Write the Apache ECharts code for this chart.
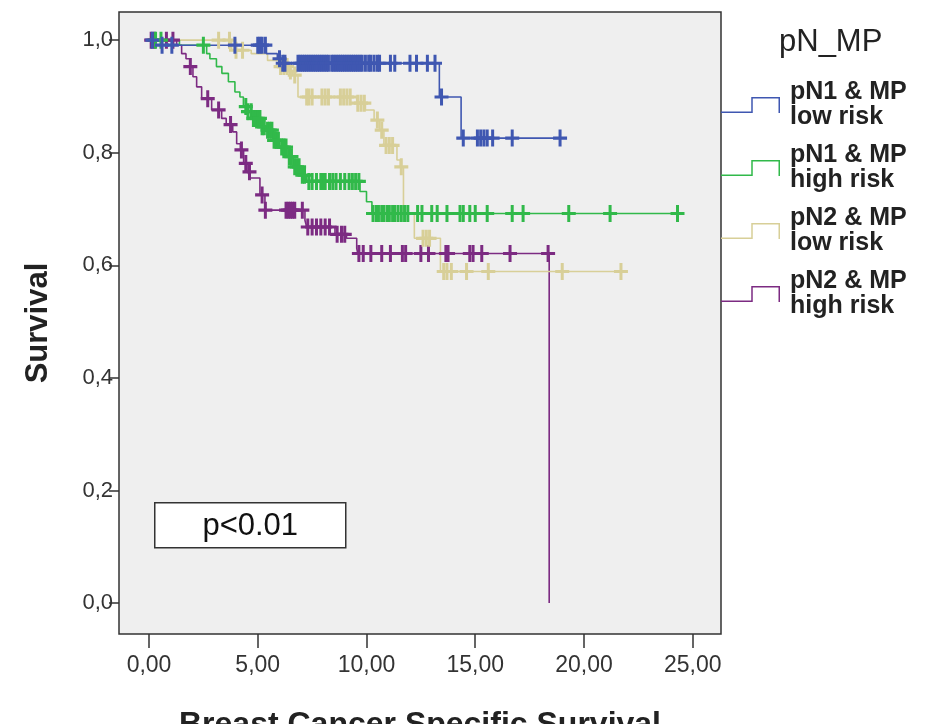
<!DOCTYPE html>
<html>
<head>
<meta charset="utf-8">
<title>pN_MP survival</title>
<script src="https://cdn.jsdelivr.net/npm/echarts@6/dist/echarts.min.js"></script>
<style>
  html, body { margin: 0; padding: 0; background: #ffffff; }
  #chart { width: 933px; height: 724px; }
</style>
</head>
<body>
<div id="chart"></div>
<script>
// Kaplan-Meier curves: [time, survival after the event]
const groupNames = ['pN1 & MP\nlow risk', 'pN1 & MP\nhigh risk', 'pN2 & MP\nlow risk', 'pN2 & MP\nhigh risk'];
const groupColors = ['#3f57b1', '#31b94a', '#d8cf98', '#7c2b82'];

const stepsN1Low = [[0, 1], [0.55, 0.991], [5.4, 0.976], [5.9, 0.967], [6.1, 0.959], [13.35, 0.899], [14.35, 0.826]];
const stepsN1High = [[0, 1], [1.4, 0.991], [2.65, 0.976], [2.8, 0.967], [3.1, 0.953], [3.35, 0.941], [3.65, 0.926],
  [3.95, 0.908], [4.18, 0.899], [4.34, 0.882], [4.5, 0.873], [4.8, 0.861], [5.15, 0.846], [5.4, 0.84], [5.7, 0.822],
  [6.0, 0.81], [6.35, 0.793], [6.65, 0.775], [6.95, 0.76], [7.25, 0.749], [9.7, 0.731], [10.0, 0.713], [10.25, 0.692]];
const stepsN2Low = [[0, 1], [3.8, 0.982], [4.7, 0.976], [5.45, 0.964], [6.0, 0.953], [6.4, 0.945], [6.6, 0.938],
  [6.85, 0.899], [9.55, 0.888], [9.95, 0.876], [10.35, 0.858], [10.6, 0.84], [10.8, 0.813], [11.4, 0.787],
  [11.55, 0.775], [11.7, 0.692], [12.2, 0.648], [13.4, 0.589]];
const stepsN2High = [[0, 1], [1.27, 0.991], [1.5, 0.976], [1.7, 0.967], [1.89, 0.953], [2.02, 0.935], [2.19, 0.917],
  [2.42, 0.896], [2.88, 0.876], [3.34, 0.861], [3.55, 0.85], [3.85, 0.837], [4.03, 0.816], [4.2, 0.805], [4.35, 0.781],
  [4.55, 0.766], [4.64, 0.755], [5.1, 0.725], [5.33, 0.698], [7.17, 0.68], [7.25, 0.668], [8.55, 0.655], [9.08, 0.648],
  [9.55, 0.63], [9.6, 0.621], [18.4, 0]];

// last follow-up time of each group (end of the horizontal tail)
const lastFollowUp = [19.0, 24.5, 21.8, 18.4];

// censored observations (times)
const censN1Low = [0.15, 0.6, 1.05, 3.95, 5.0, 5.1, 5.2, 5.35, 6.0, 6.15, 6.25, 6.85, 6.95, 7.05, 7.15, 7.25, 7.35,
  7.45, 7.55, 7.65, 7.75, 7.85, 7.95, 8.05, 8.15, 8.25, 8.4, 8.5, 8.6, 8.7, 8.8, 8.9, 9.0, 9.1, 9.2, 9.3, 9.4, 9.5,
  9.6, 9.7, 9.8, 9.95, 10.1, 10.2, 10.35, 10.5, 10.6, 11.1, 11.3, 12.0, 12.3, 12.8, 13.15, 13.45, 14.45, 15.1, 15.25,
  15.4, 15.55, 15.8, 16.7, 18.9];
const censN1High = [0.3, 0.55, 2.5, 4.45, 4.55, 4.7, 4.8, 4.9, 5.0, 5.1, 5.2, 5.3, 5.45, 5.55, 5.65, 5.75, 5.85, 5.95,
  6.1, 6.2, 6.3, 6.45, 6.55, 6.7, 6.8, 6.9, 7.05, 7.15, 7.35, 7.5, 7.7, 7.9, 8.0, 8.1, 8.3, 8.45, 8.6, 8.8, 9.0, 9.2,
  9.35, 9.5, 9.65, 10.3, 10.45, 10.55, 10.7, 10.8, 10.95, 11.05, 11.2, 11.3, 11.45, 11.6, 11.75, 11.9, 12.35, 12.55,
  13.0, 13.25, 13.7, 14.3, 14.45, 14.75, 15.0, 15.55, 16.7, 17.2, 19.3, 21.2, 24.3];
const censN2Low = [3.2, 3.7, 4.0, 4.3, 6.05, 6.2, 6.35, 6.5, 6.7, 7.25, 7.35, 7.5, 7.95, 8.1, 8.25, 8.8, 8.95, 9.1,
  9.25, 9.6, 9.75, 9.9, 10.5, 10.7, 10.9, 11.05, 11.2, 11.6, 12.6, 12.75, 12.9, 13.55, 13.7, 13.9, 14.6, 15.6, 19.0, 21.7];
const censN2High = [0.1, 0.25, 0.8, 1.1, 1.9, 2.7, 3.2, 3.75, 4.25, 4.45, 4.62, 5.2, 5.35, 6.3, 6.4, 6.5, 6.6, 6.7,
  7.05, 7.3, 7.5, 7.7, 7.9, 8.1, 8.3, 8.65, 8.85, 9.0, 9.65, 9.85, 10.2, 10.7, 11.1, 11.65, 11.8, 12.5, 12.85, 13.65,
  13.75, 14.75, 14.9, 15.3, 16.6, 18.35];

const xTicks = [0, 5, 10, 15, 20, 25];
const yTicks = [0, 0.2, 0.4, 0.6, 0.8, 1.0];
const pValueText = 'p<0.01';

const allSteps = [stepsN1Low, stepsN1High, stepsN2Low, stepsN2High];
const allCens = [censN1Low, censN1High, censN2Low, censN2High];

// survival estimate at time t from a step table
function survivalAt(steps, t) {
  let s = steps[0][1];
  for (const [time, val] of steps) {
    if (time <= t) s = val; else break;
  }
  return s;
}

const FONT = "'Liberation Sans', Arial, Helvetica, sans-serif";
const plusIcon = 'path://M5.5,0h3v16h-3z M0,6.5h14v3h-14z';
const stepIcon = 'path://M0,14.5L30.25,14.5L30.25,0L59,0L59,16L57.5,16L57.5,1.5L31.75,1.5L31.75,16L0,16Z';

const series = [];
// draw order: N2 high, N2 low, N1 high, N1 low
[3, 2, 1, 0].forEach(i => {
  const steps = allSteps[i];
  const last = steps[steps.length - 1];
  const lineData = steps.slice();
  if (lastFollowUp[i] > last[0]) lineData.push([lastFollowUp[i], last[1]]);
  series.push({
    name: groupNames[i],
    type: 'line',
    step: 'end',
    data: lineData,
    symbol: 'none',
    lineStyle: { color: groupColors[i], width: 1.6 },
    itemStyle: { color: groupColors[i] },
    z: 2,
    animation: false
  });
  series.push({
    name: 'cens' + i,
    type: 'scatter',
    data: allCens[i].map(t => [t, survivalAt(steps, t)]),
    symbol: plusIcon,
    symbolSize: [14, 17],
    itemStyle: { color: groupColors[i], opacity: 1 },
    z: 3,
    animation: false
  });
});

const chart = echarts.init(document.getElementById('chart'), null, { renderer: 'canvas' });
chart.setOption({
  backgroundColor: '#ffffff',
  animation: false,
  textStyle: { fontFamily: FONT },
  title: {
    text: 'pN_MP',
    left: 779,
    top: 27,
    padding: 0,
    textStyle: { fontFamily: FONT, fontSize: 31, fontWeight: 'normal', color: '#222222' }
  },
  legend: {
    orient: 'vertical',
    left: 721,
    top: 80,
    padding: 0,
    itemWidth: 59,
    itemHeight: 16,
    itemGap: 13,
    selectedMode: false,
    data: groupNames.map((n, i) => ({
      name: n,
      icon: stepIcon,
      itemStyle: { color: groupColors[i], borderWidth: 0 }
    })),
    textStyle: {
      fontFamily: FONT, fontSize: 25, fontWeight: 'bold', color: '#222222',
      lineHeight: 25, padding: [0, 0, 0, 5]
    }
  },
  grid: {
    left: 119, right: 212, top: 12, bottom: 90,
    containLabel: false,
    outerBoundsMode: 'none',
    show: true,
    backgroundColor: '#efefef',
    borderColor: '#333333',
    borderWidth: 1.5
  },
  xAxis: {
    type: 'value',
    min: -1.38,
    max: 26.3,
    name: 'Breast Cancer Specific Survival',
    nameLocation: 'middle',
    nameGap: 75,
    nameTextStyle: { fontFamily: FONT, fontSize: 32, fontWeight: 'bold', color: '#222222' },
    axisLine: { show: false, onZero: false },
    splitLine: { show: false },
    axisTick: { show: true, customValues: xTicks, length: 14, lineStyle: { color: '#333333', width: 1.5 } },
    axisLabel: {
      customValues: xTicks,
      formatter: v => v.toFixed(2).replace('.', ','),
      fontFamily: FONT, fontSize: 23, color: '#333333', margin: 20
    }
  },
  yAxis: {
    type: 'value',
    min: -0.055,
    max: 1.05,
    name: 'Survival',
    nameLocation: 'middle',
    nameGap: 65,
    nameRotate: 90,
    nameTextStyle: { fontFamily: FONT, fontSize: 31, fontWeight: 'bold', color: '#222222' },
    axisLine: { show: false, onZero: false },
    splitLine: { show: false },
    axisTick: { show: true, customValues: yTicks, length: 10, lineStyle: { color: '#333333', width: 1.5 } },
    axisLabel: {
      customValues: yTicks,
      formatter: v => v.toFixed(1).replace('.', ','),
      fontFamily: FONT, fontSize: 22, color: '#333333', margin: 6
    }
  },
  graphic: [
    {
      type: 'group',
      left: 154,
      top: 502,
      children: [
        { type: 'rect', shape: { x: 0, y: 0, width: 191, height: 45 },
          style: { fill: '#ffffff', stroke: '#333333', lineWidth: 1.5 } },
        { type: 'text', x: 95.5, y: 24,
          style: { text: pValueText, fontFamily: FONT, fontSize: 31, fill: '#111111',
                   align: 'center', verticalAlign: 'middle' } }
      ]
    }
  ],
  series: series
});
</script>
</body>
</html>
